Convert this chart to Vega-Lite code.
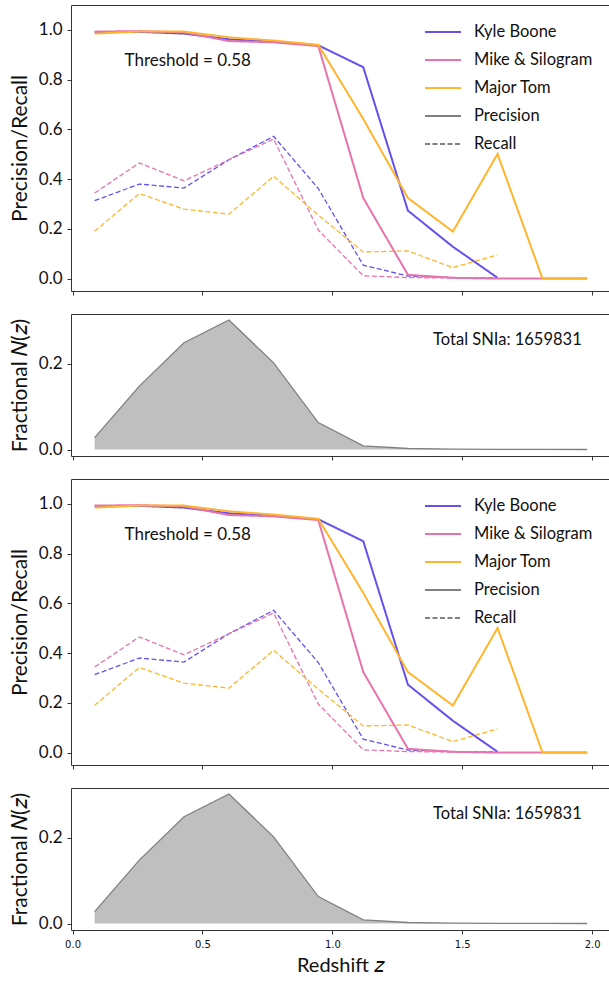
{
  "$schema": "https://vega.github.io/schema/vega-lite/v6.json",
  "background": "white",
  "padding": {"left": 8, "top": 4, "right": 0, "bottom": 4},
  "bounds": "flush",
  "spacing": 23,
  "datasets": {
    "pr": [
      {"z": 0.085, "team": "Kyle Boone", "metric": "Precision", "v": 0.99},
      {"z": 0.257, "team": "Kyle Boone", "metric": "Precision", "v": 0.992},
      {"z": 0.429, "team": "Kyle Boone", "metric": "Precision", "v": 0.985},
      {"z": 0.602, "team": "Kyle Boone", "metric": "Precision", "v": 0.962},
      {"z": 0.774, "team": "Kyle Boone", "metric": "Precision", "v": 0.952},
      {"z": 0.946, "team": "Kyle Boone", "metric": "Precision", "v": 0.938},
      {"z": 1.119, "team": "Kyle Boone", "metric": "Precision", "v": 0.85},
      {"z": 1.291, "team": "Kyle Boone", "metric": "Precision", "v": 0.273},
      {"z": 1.464, "team": "Kyle Boone", "metric": "Precision", "v": 0.128},
      {"z": 1.636, "team": "Kyle Boone", "metric": "Precision", "v": 0.003},
      {"z": 0.085, "team": "Mike & Silogram", "metric": "Precision", "v": 0.993},
      {"z": 0.257, "team": "Mike & Silogram", "metric": "Precision", "v": 0.995},
      {"z": 0.429, "team": "Mike & Silogram", "metric": "Precision", "v": 0.99},
      {"z": 0.602, "team": "Mike & Silogram", "metric": "Precision", "v": 0.955},
      {"z": 0.774, "team": "Mike & Silogram", "metric": "Precision", "v": 0.95},
      {"z": 0.946, "team": "Mike & Silogram", "metric": "Precision", "v": 0.935},
      {"z": 1.119, "team": "Mike & Silogram", "metric": "Precision", "v": 0.324},
      {"z": 1.291, "team": "Mike & Silogram", "metric": "Precision", "v": 0.015},
      {"z": 1.464, "team": "Mike & Silogram", "metric": "Precision", "v": 0.003},
      {"z": 1.636, "team": "Mike & Silogram", "metric": "Precision", "v": 0.0},
      {"z": 1.809, "team": "Mike & Silogram", "metric": "Precision", "v": 0.0},
      {"z": 1.981, "team": "Mike & Silogram", "metric": "Precision", "v": 0.0},
      {"z": 0.085, "team": "Major Tom", "metric": "Precision", "v": 0.985},
      {"z": 0.257, "team": "Major Tom", "metric": "Precision", "v": 0.993},
      {"z": 0.429, "team": "Major Tom", "metric": "Precision", "v": 0.993},
      {"z": 0.602, "team": "Major Tom", "metric": "Precision", "v": 0.97},
      {"z": 0.774, "team": "Major Tom", "metric": "Precision", "v": 0.957},
      {"z": 0.946, "team": "Major Tom", "metric": "Precision", "v": 0.94},
      {"z": 1.119, "team": "Major Tom", "metric": "Precision", "v": 0.642},
      {"z": 1.291, "team": "Major Tom", "metric": "Precision", "v": 0.324},
      {"z": 1.464, "team": "Major Tom", "metric": "Precision", "v": 0.189},
      {"z": 1.636, "team": "Major Tom", "metric": "Precision", "v": 0.501},
      {"z": 1.809, "team": "Major Tom", "metric": "Precision", "v": 0.0},
      {"z": 1.981, "team": "Major Tom", "metric": "Precision", "v": 0.0},
      {"z": 0.085, "team": "Kyle Boone", "metric": "Recall", "v": 0.313},
      {"z": 0.257, "team": "Kyle Boone", "metric": "Recall", "v": 0.38},
      {"z": 0.429, "team": "Kyle Boone", "metric": "Recall", "v": 0.364},
      {"z": 0.602, "team": "Kyle Boone", "metric": "Recall", "v": 0.478},
      {"z": 0.774, "team": "Kyle Boone", "metric": "Recall", "v": 0.572},
      {"z": 0.946, "team": "Kyle Boone", "metric": "Recall", "v": 0.362},
      {"z": 1.119, "team": "Kyle Boone", "metric": "Recall", "v": 0.054},
      {"z": 1.291, "team": "Kyle Boone", "metric": "Recall", "v": 0.01},
      {"z": 1.464, "team": "Kyle Boone", "metric": "Recall", "v": 0.004},
      {"z": 1.636, "team": "Kyle Boone", "metric": "Recall", "v": 0.002},
      {"z": 0.085, "team": "Mike & Silogram", "metric": "Recall", "v": 0.344},
      {"z": 0.257, "team": "Mike & Silogram", "metric": "Recall", "v": 0.465},
      {"z": 0.429, "team": "Mike & Silogram", "metric": "Recall", "v": 0.393},
      {"z": 0.602, "team": "Mike & Silogram", "metric": "Recall", "v": 0.478},
      {"z": 0.774, "team": "Mike & Silogram", "metric": "Recall", "v": 0.561},
      {"z": 0.946, "team": "Mike & Silogram", "metric": "Recall", "v": 0.195},
      {"z": 1.119, "team": "Mike & Silogram", "metric": "Recall", "v": 0.011},
      {"z": 1.291, "team": "Mike & Silogram", "metric": "Recall", "v": 0.004},
      {"z": 1.464, "team": "Mike & Silogram", "metric": "Recall", "v": 0.002},
      {"z": 1.636, "team": "Mike & Silogram", "metric": "Recall", "v": 0.001},
      {"z": 0.085, "team": "Major Tom", "metric": "Recall", "v": 0.19},
      {"z": 0.257, "team": "Major Tom", "metric": "Recall", "v": 0.342},
      {"z": 0.429, "team": "Major Tom", "metric": "Recall", "v": 0.279},
      {"z": 0.602, "team": "Major Tom", "metric": "Recall", "v": 0.259},
      {"z": 0.774, "team": "Major Tom", "metric": "Recall", "v": 0.411},
      {"z": 0.946, "team": "Major Tom", "metric": "Recall", "v": 0.255},
      {"z": 1.119, "team": "Major Tom", "metric": "Recall", "v": 0.107},
      {"z": 1.291, "team": "Major Tom", "metric": "Recall", "v": 0.111},
      {"z": 1.464, "team": "Major Tom", "metric": "Recall", "v": 0.044},
      {"z": 1.636, "team": "Major Tom", "metric": "Recall", "v": 0.095}
    ],
    "nz": [
      {"z": 0.085, "n": 0.028},
      {"z": 0.257, "n": 0.148},
      {"z": 0.429, "n": 0.249},
      {"z": 0.602, "n": 0.302},
      {"z": 0.774, "n": 0.202},
      {"z": 0.946, "n": 0.063},
      {"z": 1.119, "n": 0.0085},
      {"z": 1.291, "n": 0.0025},
      {"z": 1.464, "n": 0.001},
      {"z": 1.636, "n": 0.0005},
      {"z": 1.809, "n": 0.0003},
      {"z": 1.981, "n": 0.0002}
    ],
    "thr": [{"z": 0.2, "v": 0.873, "label": "Threshold = 0.58"}],
    "tot": [{"z": 1.96, "n": 0.256, "label": "Total SNIa: 1659831"}]
  },
  "vconcat": [
    {
      "width": 538, "height": 286,
      "encoding": {
        "x": {"field": "z", "type": "quantitative", "scale": {"domain": [-0.006, 2.065], "nice": false, "zero": false},
              "axis": {"values": [0, 0.5, 1, 1.5, 2], "labels": false, "title": null}},
        "y": {"field": "v", "type": "quantitative", "scale": {"domain": [-0.05, 1.1], "nice": false},
              "axis": {"values": [0, 0.2, 0.4, 0.6, 0.8, 1.0], "format": ".1f", "title": "Precision/Recall"}}
      },
      "layer": [
        {
          "data": {"name": "pr"},
          "transform": [{"filter": "datum.metric === 'Recall'"}],
          "mark": {"type": "line", "strokeWidth": 1.3},
          "encoding": {
            "color": {"field": "team", "type": "nominal",
              "scale": {"domain": ["Kyle Boone", "Mike & Silogram", "Major Tom", "Precision", "Recall"], "range": ["#6650f0", "#e873ac", "#ffb52e", "#808080", "#808080"]}},
            "strokeDash": {"field": "metric", "type": "nominal",
              "scale": {"domain": ["Kyle Boone", "Mike & Silogram", "Major Tom", "Precision", "Recall"], "range": [[1, 0], [1, 0], [1, 0], [1, 0], [5, 2.5]]}}
          }
        },
        {
          "data": {"name": "pr"},
          "transform": [{"filter": "datum.metric === 'Precision'"}],
          "mark": {"type": "line", "strokeWidth": 2},
          "encoding": {
            "color": {"field": "team", "type": "nominal"},
            "strokeDash": {"field": "metric", "type": "nominal"}
          }
        },
        {
          "data": {"name": "thr"},
          "mark": {"type": "text", "align": "left", "baseline": "middle", "fontSize": 17, "font": "Lato", "fontWeight": "normal", "fill": "#111"},
          "encoding": {"text": {"field": "label"}}
        }
      ]
    },
    {
      "width": 538, "height": 142,
      "encoding": {
        "x": {"field": "z", "type": "quantitative", "scale": {"domain": [-0.006, 2.065], "nice": false, "zero": false},
              "axis": {"values": [0, 0.5, 1, 1.5, 2], "labels": false, "title": null}},
        "y": {"field": "n", "type": "quantitative", "scale": {"domain": [-0.015, 0.316], "nice": false},
              "axis": {"values": [0, 0.2], "format": ".1f", "title": "Fractional 𝑁(𝑧)"}}
      },
      "layer": [
        {"data": {"name": "nz"}, "mark": {"type": "area", "color": "#bfbfbf", "opacity": 1}},
        {"data": {"name": "nz"}, "mark": {"type": "line", "color": "#808080", "strokeWidth": 1.3}},
        {
          "data": {"name": "tot"},
          "mark": {"type": "text", "align": "right", "baseline": "middle", "fontSize": 16.5, "font": "Lato", "fontWeight": "normal", "fill": "#111"},
          "encoding": {"text": {"field": "label"}}
        }
      ]
    },
    {
      "width": 538, "height": 286,
      "encoding": {
        "x": {"field": "z", "type": "quantitative", "scale": {"domain": [-0.006, 2.065], "nice": false, "zero": false},
              "axis": {"values": [0, 0.5, 1, 1.5, 2], "labels": false, "title": null}},
        "y": {"field": "v", "type": "quantitative", "scale": {"domain": [-0.05, 1.1], "nice": false},
              "axis": {"values": [0, 0.2, 0.4, 0.6, 0.8, 1.0], "format": ".1f", "title": "Precision/Recall"}}
      },
      "layer": [
        {
          "data": {"name": "pr"},
          "transform": [{"filter": "datum.metric === 'Recall'"}],
          "mark": {"type": "line", "strokeWidth": 1.3},
          "encoding": {
            "color": {"field": "team", "type": "nominal",
              "scale": {"domain": ["Kyle Boone", "Mike & Silogram", "Major Tom", "Precision", "Recall"], "range": ["#6650f0", "#e873ac", "#ffb52e", "#808080", "#808080"]}},
            "strokeDash": {"field": "metric", "type": "nominal",
              "scale": {"domain": ["Kyle Boone", "Mike & Silogram", "Major Tom", "Precision", "Recall"], "range": [[1, 0], [1, 0], [1, 0], [1, 0], [5, 2.5]]}}
          }
        },
        {
          "data": {"name": "pr"},
          "transform": [{"filter": "datum.metric === 'Precision'"}],
          "mark": {"type": "line", "strokeWidth": 2},
          "encoding": {
            "color": {"field": "team", "type": "nominal"},
            "strokeDash": {"field": "metric", "type": "nominal"}
          }
        },
        {
          "data": {"name": "thr"},
          "mark": {"type": "text", "align": "left", "baseline": "middle", "fontSize": 17, "font": "Lato", "fontWeight": "normal", "fill": "#111"},
          "encoding": {"text": {"field": "label"}}
        }
      ]
    },
    {
      "width": 538, "height": 142,
      "encoding": {
        "x": {"field": "z", "type": "quantitative", "scale": {"domain": [-0.006, 2.065], "nice": false, "zero": false},
              "axis": {"values": [0, 0.5, 1, 1.5, 2], "format": ".1f", "title": "Redshift 𝑧", "labelFontSize": 10, "labelFont": "DejaVu Sans", "titleFontSize": 20, "titlePadding": 6}},
        "y": {"field": "n", "type": "quantitative", "scale": {"domain": [-0.015, 0.316], "nice": false},
              "axis": {"values": [0, 0.2], "format": ".1f", "title": "Fractional 𝑁(𝑧)"}}
      },
      "layer": [
        {"data": {"name": "nz"}, "mark": {"type": "area", "color": "#bfbfbf", "opacity": 1}},
        {"data": {"name": "nz"}, "mark": {"type": "line", "color": "#808080", "strokeWidth": 1.3}},
        {
          "data": {"name": "tot"},
          "mark": {"type": "text", "align": "right", "baseline": "middle", "fontSize": 16.5, "font": "Lato", "fontWeight": "normal", "fill": "#111"},
          "encoding": {"text": {"field": "label"}}
        }
      ]
    }
  ],
  "resolve": {
    "scale": {"color": "independent", "strokeDash": "independent", "x": "independent", "y": "independent"},
    "legend": {"color": "independent", "strokeDash": "independent"}
  },
  "config": {
    "font": "Lato",
    "view": {"stroke": "#333", "strokeWidth": 1},
    "axis": {
      "grid": false, "domain": false, "tickColor": "#333", "tickSize": 4, "tickWidth": 1,
      "labelFont": "Lato", "titleFont": "Lato", "labelColor": "#111", "titleColor": "#111",
      "titleFontWeight": "normal", "labelFontSize": 17, "titleFontSize": 21, "labelPadding": 5, "titlePadding": 8
    },
    "legend": {
      "orient": "none", "legendX": 353, "legendY": 8, "title": null, "padding": 0,
      "labelFont": "Lato", "labelFontSize": 16.5, "labelColor": "#111", "labelOffset": 12,
      "symbolType": "stroke", "symbolSize": 1296, "symbolStrokeWidth": 2, "rowPadding": -11
    }
  }
}
